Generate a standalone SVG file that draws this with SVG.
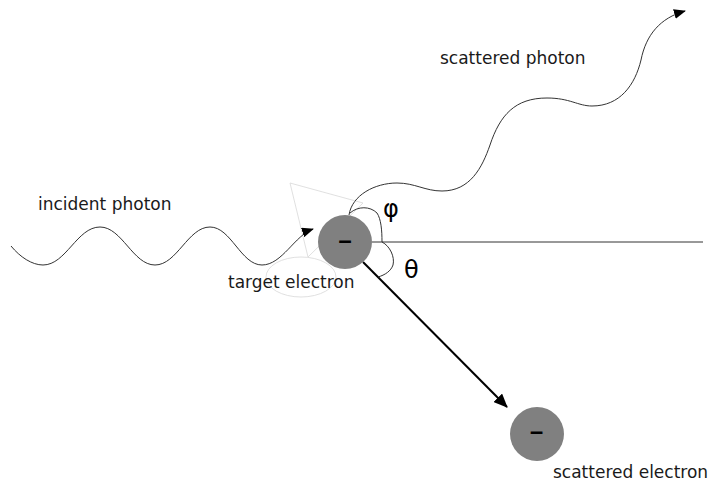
<svg xmlns="http://www.w3.org/2000/svg" width="711" height="481" viewBox="0 0 711 481">
<style>
.lbl{font-family:"DejaVu Sans",sans-serif;font-size:17px;fill:#1a1a1a}
.greek{font-family:"DejaVu Sans",sans-serif;font-size:24px;fill:#000}
.minus{font-family:"DejaVu Sans",sans-serif;font-size:32px;font-weight:bold;fill:#000;text-anchor:middle}
.wave{fill:none;stroke:#333;stroke-width:1}
.faint{fill:none;stroke:#d8d8d8;stroke-width:0.8}
.electron{fill:#808080}
</style>
<defs>
<marker id="ah" markerWidth="12" markerHeight="10" refX="11" refY="5" orient="auto" markerUnits="userSpaceOnUse">
<path d="M0,0 L12,5 L0,10 Z" fill="#000"/>
</marker>
<marker id="ah2" markerWidth="14" markerHeight="12" refX="13" refY="6" orient="auto" markerUnits="userSpaceOnUse">
<path d="M0,0 L14,6 L0,12 Z" fill="#000"/>
</marker>
</defs>
<rect width="711" height="481" fill="#fff"/>
<g id="faint-marks">
<path class="faint" d="M290,183 L363,203 L308,257 Z"/>
<ellipse class="faint" cx="301" cy="277" rx="35" ry="20"/>
</g>
<g id="connectors">
<path id="incident-photon-wave" class="wave" marker-end="url(#ah)" d="M11,246 C20,257 32,265 43,265 C66,265 77,227 100,227 C122,227 133,265 155,265 C177,265 188,227 210,227 C231,227 241,265 262,265 C282,265 295,235 313,229"/>
<path id="scattered-photon-wave" class="wave" marker-end="url(#ah)" d="M349,215 C352,195 375,183 397,183 C415,183 425,191 442,191 C470,191 482,168 490,145 C500,115 515,98 547,98 C570,98 578,106 592,106 C620,106 635,85 641,60 C646,35 660,18 685,11"/>
<line id="baseline" x1="372" y1="242" x2="703" y2="242" stroke="#333" stroke-width="1"/>
<line id="electron-path" x1="363" y1="262" x2="507" y2="407" stroke="#000" stroke-width="2" marker-end="url(#ah2)"/>
<path id="phi-arc" class="wave" d="M350,213 C358,206 370,206 377,213 C381,219 382,230 382,242"/>
<path id="theta-arc" class="wave" d="M382,242 C390,246 395,257 393,265 C391,271 385,275 378,277"/>
</g>
<g id="target-electron">
<circle class="electron" cx="345" cy="242" r="27"/>
<text class="minus" style="font-weight:normal" transform="translate(345,251) scale(1.4,1)" x="0" y="0">-</text>
</g>
<g id="scattered-electron">
<circle class="electron" cx="537" cy="434" r="27"/>
<text class="minus" style="font-weight:normal" transform="translate(536.5,442) scale(1.4,1)" x="0" y="0">-</text>
</g>
<g id="labels">
<text class="lbl" x="38" y="210">incident photon</text>
<text class="lbl" x="440" y="64">scattered photon</text>
<text class="lbl" x="228" y="288">target electron</text>
<text class="lbl" x="553" y="478">scattered electron</text>
<text class="greek" x="383" y="217">φ</text>
<text class="greek" x="404" y="278">θ</text>
</g>
</svg>
